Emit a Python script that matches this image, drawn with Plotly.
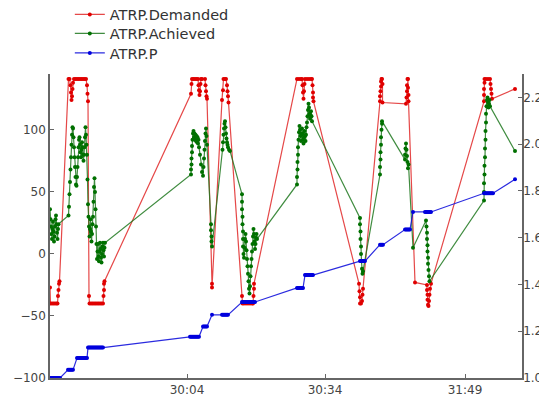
import plotly.graph_objects as go

# sample index (time axis) and values
dem_t = [0, 0.5, 2, 3.5, 5, 6.5, 7.5, 8, 8.5, 9, 9.5,
         18.5, 19.5, 20.5, 21, 21.5, 22, 22.5, 23, 24, 25.5, 27, 28.5, 30, 31.5, 33, 34.5, 36, 37, 37.5, 38,
         39, 39.5, 41, 42.5, 44, 45.5, 47, 48.5, 50, 51.5, 53, 53.5, 54, 54, 54.5,
         141, 141.5, 142, 143.5, 145, 146.5, 148, 148.5, 149, 149.5, 150, 150.5, 151, 152, 155, 155.5, 156, 156.5, 157,
         162, 162,
         172, 173, 173.5, 175, 176, 177, 177.5, 178, 178.5,
         192, 192.5, 194, 196, 198, 200, 202, 203, 203.5, 204, 204,
         247, 249, 251, 252, 252.5, 253, 253.5, 254, 254.5, 255, 257, 259, 261, 262, 262.5, 263, 263, 263.5,
         309, 309.5, 310, 310, 311, 312, 312.5, 313,
         330, 330, 330.5, 331, 331, 331.5, 332, 332.5, 332.5,
         356, 356.5, 357, 357, 357.5, 358, 358, 358.5, 358.5,
         365, 377, 377, 377.5, 377.5, 378, 378.5, 379, 379.5, 380, 381,
         434, 434, 434, 434.5, 434.5, 436, 438, 440, 440.5, 441, 441.5, 442,
         465]
dem_v = [-27, -40, -40, -40, -40, -40, -40, -34, -29, -24, -22,
         141, 141, 136, 130, 124, 127, 133, 138, 141, 141, 141, 141, 141, 141, 141, 141, 141, 136, 129, 123,
         -34, -40, -40, -40, -40, -40, -40, -40, -40, -40, -40, -34, -29, -24, -22,
         129, 137, 141, 141, 141, 141, 141, 136, 132, 128, 131, 137, 141, 141, 141, 136, 131, 127, 125,
         -24, -27,
         124, 132, 141, 141, 141, 136, 131, 127, 122,
         -34, -40, -40, -40, -40, -40, -40, -40, -34, -28, -24,
         141, 141, 141, 141, 136, 130, 125, 131, 137, 141, 141, 141, 141, 141, 136, 130, 126, 123,
         -24, -30, -35, -40, -40, -38, -33, -28,
         123, 127, 131, 135, 139, 141, 141, 137, 122,
         121, 126, 131, 136, 141, 141, 134, 128, 123,
         -23, -25, -29, -33, -37, -41, -42, -38, -33, -28, -24,
         123, 128, 133, 138, 141, 141, 141, 141, 137, 133, 129, 125,
         133]

ach_t = [0, 0.5, 1, 1.5, 2, 2.5, 3, 3.5, 4, 4.5, 5, 5.5, 6, 6.5, 7, 7.5, 8, 8.5,
         18.5, 19, 19.5, 20, 20.5, 21, 21.5, 22, 22.5, 23, 23.5, 24, 24.5, 25, 25.5, 26, 26.5, 27, 27.5, 28,
         28.5, 29, 29.5, 30, 30.5, 31, 31.5, 32, 32.5, 33, 33.5, 34, 34.5, 35, 35.5, 36, 36.5, 37, 37.5, 38,
         38.5, 39, 39.5, 40, 40.5, 41, 41.5, 42, 42.5, 43, 43.5, 44, 44.5, 45, 45.5, 46, 46.5, 47, 47.5, 48,
         48.5, 49, 49.5, 50, 50.5, 51, 51.5, 52, 52.5, 53, 53.5, 54, 54.5, 55,
         141, 141, 141.5, 141.5, 142, 142, 142.5, 143, 143.5, 144, 144.5, 145, 145.5, 146, 146.5, 147, 147.5,
         148, 148.5, 149, 150, 151, 152, 153, 153.5, 154, 154.5, 155, 155.5, 156, 156.5, 157,
         161, 161, 161.5, 161.5, 162,
         172.5, 173, 173.5, 174, 174.5, 175, 175.5, 176, 176.5, 177, 177.5, 178, 179, 180,
         192, 192, 192, 192.5, 192.5, 193, 193, 193, 193.5, 194, 194.5, 195, 195.5, 196, 196.5, 197, 197.5,
         198, 198.5, 199, 199.5, 200, 200.5, 201, 201.5, 202, 202.5, 203, 203.5, 204, 204.5, 205, 205.5,
         206, 206.5, 207,
         247, 247, 247.5, 247.5, 248, 248, 248.5, 249, 249.5, 250, 250.5, 251, 251.5, 252, 252.5, 253, 253.5,
         254, 254.5, 255, 255.5, 256, 256.5, 257, 257.5, 258, 258.5, 259, 259.5, 260, 260.5, 261, 261.5, 262,
         310, 310, 310.5, 310.5, 311, 311, 311.5, 312, 312.5, 313,
         330, 330, 330.5, 330.5, 331, 331, 331.5, 332, 332,
         355, 355, 355.5, 356, 356.5, 357, 357.5, 358, 358.5,
         363, 376, 376.5, 377, 377, 377.5, 377.5, 378, 378, 378.5, 379, 379.5,
         434, 434, 434, 434.5, 434.5, 435, 435, 435.5, 435.5, 436, 436, 436.5, 437, 437.5, 438, 438.5, 439,
         439.5, 440,
         465]
ach_v = [36, 28, 22, 16, 12, 20, 26, 18, 10, 14, 22, 28, 31, 24, 17, 12, 20, 24,
         31, 38, 48, 58, 68, 78, 88, 96, 102, 101, 94, 86, 78, 70, 62, 56, 55, 62, 70, 78,
         86, 92, 94, 88, 82, 78, 84, 90, 86, 80, 75, 80, 86, 94, 102, 96, 88, 80, 60, 40,
         30, 22, 14, 20, 28, 18, 10, 16, 24, 30, 42, 54, 61, 50, 36, 22, 8, -4, 2, 8,
         -2, -6, 2, 9, 4, -3, -7, 0, 6, 9, 3, -2, 5, 9,
         64, 68, 72, 77, 82, 87, 92, 97, 99, 94, 97, 92, 96, 91, 95, 90, 94,
         89, 92, 86, 80, 72, 66, 63, 70, 77, 84, 91, 97, 101, 95, 88,
         24, 19, 14, 10, 6,
         84, 90, 96, 101, 105, 107, 102, 97, 93, 90, 88, 86, 84, 83,
         48, 42, 36, 30, 24, 18, 12, 6, 0, -3, 5, 12, 16, 10, 3, -4, -10,
         -16, -22, -28, -32, -26, -18, -10, -4, 2, 8, 14, 20, 16, 10, 4, 8,
         13, 16, 12,
         56, 62, 68, 74, 80, 86, 92, 98, 103, 100, 95, 91, 96, 101, 97, 92, 89,
         94, 99, 95, 91, 96, 102, 106, 111, 116, 121, 118, 113, 109, 112, 115, 111, 107,
         29, 24, 18, 12, 6, 0, -6, -12, -16, -14,
         64, 70, 76, 82, 88, 94, 100, 105, 107,
         76, 80, 85, 89, 84, 79, 74, 69, 72,
         5, 27, 22, 17, 12, 7, 2, -3, -8, -13, -18, -22,
         43, 50, 57, 64, 71, 78, 85, 92, 99, 106, 113, 119, 124, 126, 122, 118, 121,
         124, 119,
         83]

p_t = [0, 1, 2, 3, 4, 5, 6, 7, 8, 9, 10,
       18, 19, 20, 21, 22, 23,
       27, 28, 29, 30, 31, 32, 33, 34, 35, 36, 37,
       38, 39, 40, 41, 42, 43, 44, 45, 46, 47, 48, 49, 50, 51, 52, 53,
       140, 141, 142, 143, 144, 145, 146, 147, 148, 149,
       153, 154, 155, 156, 157,
       162,
       172, 173, 174, 175, 176, 177, 178,
       192, 193, 194, 195, 196, 197, 198, 199, 200, 201, 202, 203, 204, 205,
       247, 248, 249, 250, 251, 252, 253,
       255, 256, 257, 258, 259, 260, 261, 262, 263,
       310, 311, 312, 313, 314, 315,
       330, 331, 332, 333,
       355, 356, 357, 358, 359, 360,
       363, 375, 376, 377, 378, 379, 380, 381,
       434, 435, 436, 437, 438, 439, 440, 441, 442, 443,
       465]
p_v = [1.0, 1.0, 1.0, 1.0, 1.0, 1.0, 1.0, 1.0, 1.0, 1.0, 1.0,
       1.035, 1.035, 1.035, 1.035, 1.035, 1.035,
       1.085, 1.085, 1.085, 1.085, 1.085, 1.085, 1.085, 1.085, 1.085, 1.085, 1.085,
       1.13, 1.13, 1.13, 1.13, 1.13, 1.13, 1.13, 1.13, 1.13, 1.13, 1.13, 1.13, 1.13, 1.13, 1.13, 1.13,
       1.176, 1.176, 1.176, 1.176, 1.176, 1.176, 1.176, 1.176, 1.176, 1.176,
       1.22, 1.22, 1.22, 1.22, 1.22,
       1.27,
       1.27, 1.27, 1.27, 1.27, 1.27, 1.27, 1.27,
       1.325, 1.325, 1.325, 1.325, 1.325, 1.325, 1.325, 1.325, 1.325, 1.325, 1.325, 1.325, 1.325, 1.325,
       1.385, 1.385, 1.385, 1.385, 1.385, 1.385, 1.385,
       1.44, 1.44, 1.44, 1.44, 1.44, 1.44, 1.44, 1.44, 1.44,
       1.50, 1.50, 1.50, 1.50, 1.50, 1.50,
       1.57, 1.57, 1.57, 1.57,
       1.635, 1.635, 1.635, 1.635, 1.635, 1.635,
       1.71, 1.71, 1.71, 1.71, 1.71, 1.71, 1.71, 1.71,
       1.79, 1.79, 1.79, 1.79, 1.79, 1.79, 1.79, 1.79, 1.79, 1.79,
       1.85]

x_tickvals = [137, 275, 415]
x_ticktext = ["30:04", "30:34", "31:49"]
left_ticks = [-100, -50, 0, 50, 100]
right_ticks = [1.0, 1.2, 1.4, 1.6, 1.8, 2.0, 2.2]
right_ticktext = ["1.0", "1.2", "1.4", "1.6", "1.8", "2.0", "2.2"]

fig = go.Figure()
fig.add_trace(go.Scatter(x=dem_t, y=dem_v, name="ATRP.Demanded", mode="lines+markers",
                         line=dict(color="rgba(225,40,40,0.85)", width=1.2),
                         marker=dict(color="#e00000", size=4), legend="legend"))
fig.add_trace(go.Scatter(x=ach_t, y=ach_v, name="ATRP.Achieved", mode="lines+markers",
                         line=dict(color="rgba(30,120,30,0.85)", width=1.2),
                         marker=dict(color="#007000", size=4), legend="legend2"))
fig.add_trace(go.Scatter(x=p_t, y=p_v, name="ATRP.P", mode="lines+markers", yaxis="y2",
                         line=dict(color="rgba(20,20,220,0.9)", width=1.2),
                         marker=dict(color="#0000dd", size=4), legend="legend3"))

axis_common = dict(showgrid=False, zeroline=False, showline=True, linecolor="#666",
                   linewidth=1.5, ticks="inside", ticklen=4, tickcolor="#666",
                   automargin=False,
                   tickfont=dict(family="DejaVu Sans", size=12, color="#444"))

legend_common = dict(x=0.042, xanchor="left", yanchor="middle", maxheight=80,
                     font=dict(family="DejaVu Sans", size=14.5, color="#333"),
                     bgcolor="rgba(0,0,0,0)")

# the page body adds an 8px offset, so the figure is sized 8px smaller
fig.update_layout(
    width=539, height=389,
    margin=dict(l=42, r=25, t=66, b=19, autoexpand=False),
    plot_bgcolor="white", paper_bgcolor="white",
    showlegend=True,
    font=dict(family="DejaVu Sans", size=12, color="#444"),
    legend=dict(y=1.1957, **legend_common),
    legend2=dict(y=1.1332, **legend_common),
    legend3=dict(y=1.0691, **legend_common),
    xaxis=dict(range=[0, 472], tickvals=x_tickvals, ticktext=x_ticktext, **axis_common),
    yaxis=dict(range=[-100, 145], tickvals=left_ticks, **axis_common),
    yaxis2=dict(range=[1.0, 2.3], tickvals=right_ticks, ticktext=right_ticktext,
                overlaying="y", side="right", ticklabelstandoff=-3, **axis_common),
)

fig.write_html("out.html")
